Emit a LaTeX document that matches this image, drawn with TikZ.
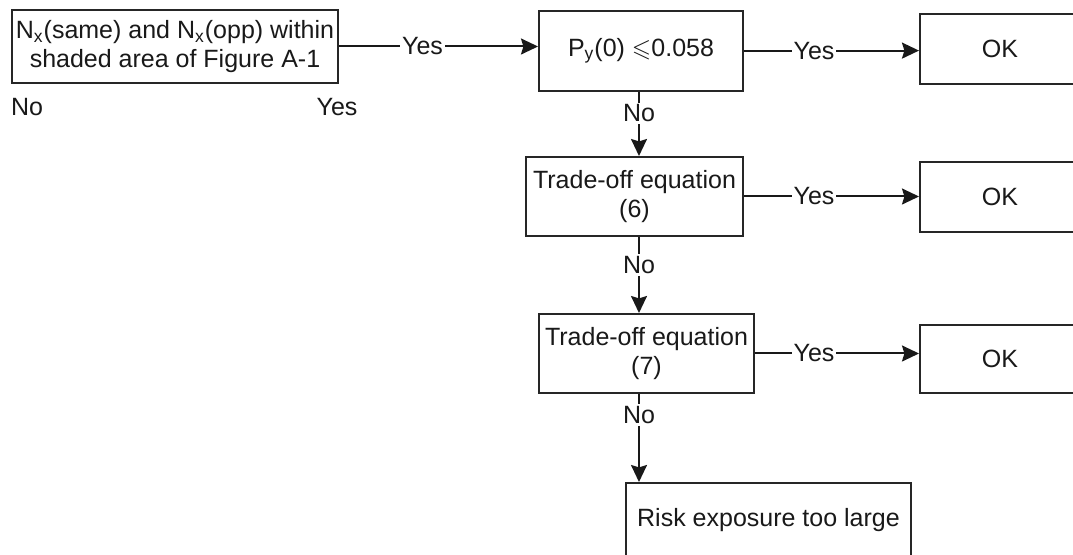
\documentclass[tikz,border=0pt]{standalone}
\usepackage{amssymb}
\usepackage{fontspec}
\setmainfont{Liberation Sans}
\usetikzlibrary{arrows.meta}
\begin{document}
\begin{tikzpicture}[x=0.5pt,y=-0.5pt,
  every node/.style={font=\fontsize{12.5}{14.5}\selectfont, text=black!90},
  box/.style={draw=black!85, line width=1pt, inner sep=0pt, align=center},
  conn/.style={draw=black!90, line width=1pt, -{Stealth[length=8.5pt,width=8pt,inset=1.2pt]}},
  lbl/.style={fill=white, inner sep=1pt}]
\path[use as bounding box, clip] (0,0) rectangle (1073,555);
\fill[white] (0,0) rectangle (1073,555);
\coordinate (vx) at (639,0);
\node[box, minimum width=163pt, minimum height=36.5pt] (b1) at (175,46.5)
  {N\textsubscript{x}(same) and N\textsubscript{x}(opp) within\\ shaded area of Figure A-1};
\node[box, minimum width=102pt, minimum height=40pt] (p) at (641,50.6)
  {P\textsubscript{y}(0) \ensuremath{\leqslant}0.058};
\node[box, minimum width=80pt, minimum height=35pt] (ok1) at (1000,48.8) {OK};
\node[box, minimum width=108.5pt, minimum height=39.5pt] (t6) at (634.5,196.5)
  {Trade-off equation\\(6)};
\node[box, minimum width=80pt, minimum height=35pt] (ok2) at (1000,197) {OK};
\node[box, minimum width=107.5pt, minimum height=39.5pt] (t7) at (646.5,353.5)
  {Trade-off equation\\(7)};
\node[box, minimum width=80pt, minimum height=34pt] (ok3) at (1000,359) {OK};
\node[box, minimum width=142.5pt, minimum height=37pt] (risk) at (768.5,520)
  {Risk exposure too large};
\node (no0) at (27,107) {No};
\node (yes0) at (337,107) {Yes};
\draw[conn] (b1.east) -- node[lbl, pos=0.42] {Yes} (b1.east -| p.west);
\draw[conn] (p.east) -- node[lbl, pos=0.40] {Yes} (p.east -| ok1.west);
\draw[conn] (t6.east) -- node[lbl, pos=0.40] {Yes} (t6.east -| ok2.west);
\draw[conn] (t7.east) -- node[lbl, pos=0.36] {Yes} (t7.east -| ok3.west);
\draw[conn] (p.south -| vx) -- node[lbl, pos=0.34] {No} (t6.north -| vx);
\draw[conn] (t6.south -| vx) -- node[lbl, pos=0.37] {No} (t7.north -| vx);
\draw[conn] (t7.south -| vx) -- node[lbl, pos=0.24] {No} (risk.north -| vx);
\end{tikzpicture}
\end{document}
